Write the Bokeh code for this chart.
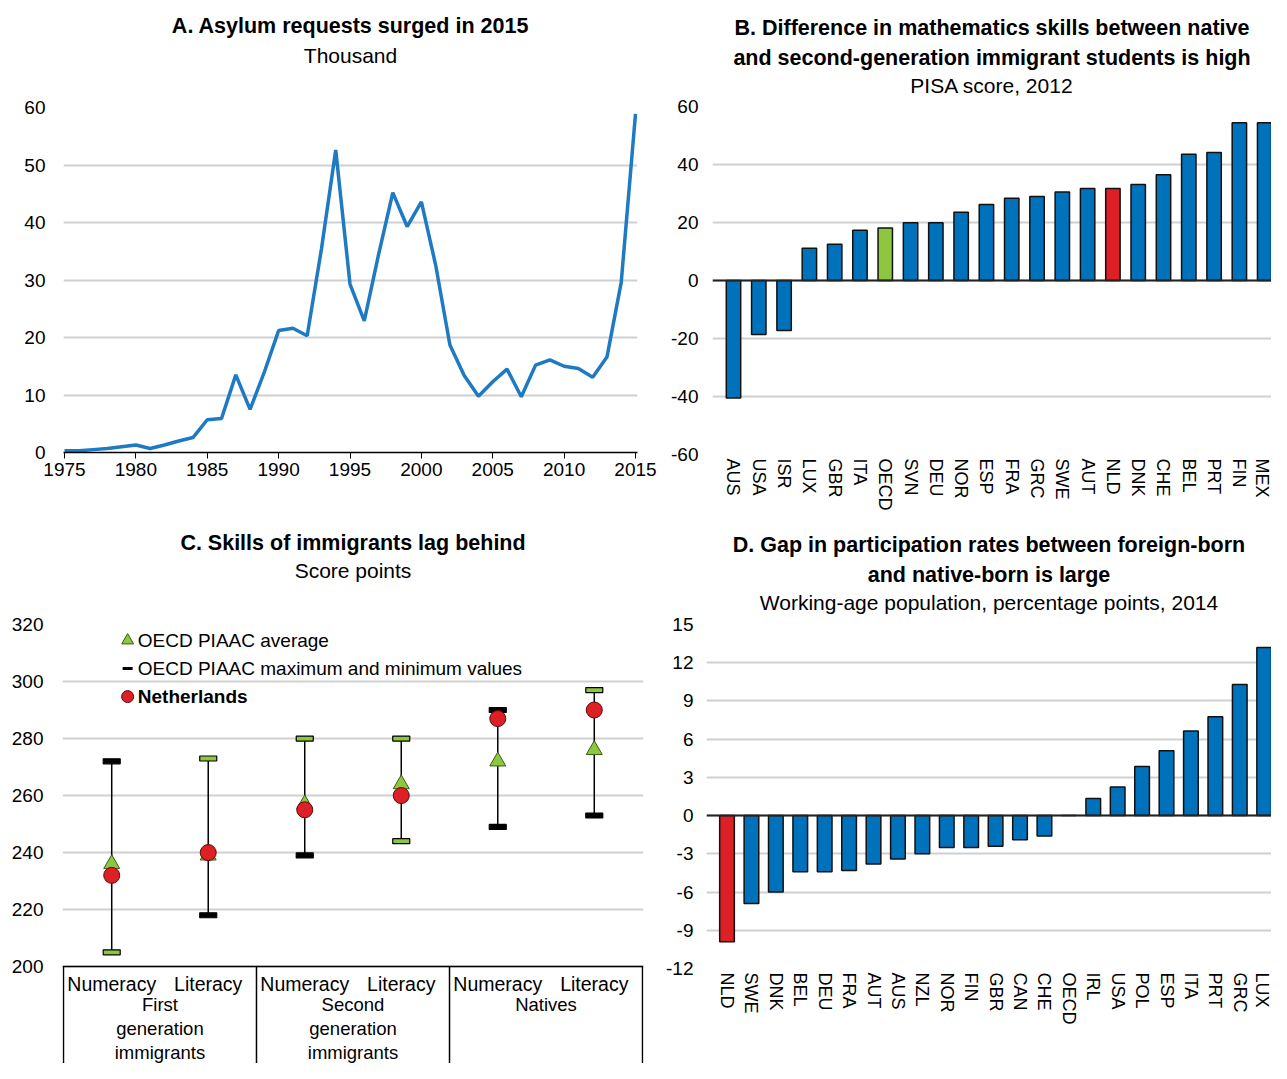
from bokeh.plotting import figure
from bokeh.models import Range1d, FixedTicker, Title, ColumnDataSource, Span
from bokeh.layouts import row, column
from bokeh.embed import file_html
from bokeh.resources import INLINE
from bokeh.core.properties import value

FONT = "Liberation Sans"
BLUE = "#0072BC"
RED = "#DD1F26"
GREEN = "#8DC63F"
GRID = "#D0D0D0"

# ---------------- data ----------------
# Panel A: asylum requests (thousand)
years = list(range(1975, 2016))
asylum = [0.3, 0.3, 0.5, 0.7, 1.0, 1.3, 0.7, 1.3, 2.0, 2.6,
          5.7, 5.9, 13.5, 7.5, 14.0, 21.2, 21.6, 20.3, 35.4, 52.6,
          29.3, 22.9, 34.4, 45.2, 39.3, 43.6, 32.6, 18.7, 13.4, 9.8,
          12.3, 14.5, 9.7, 15.2, 16.1, 15.0, 14.6, 13.1, 16.6, 29.6, 58.9]

# Panel B: PISA maths gap native vs second generation
b_countries = ["AUS", "USA", "ISR", "LUX", "GBR", "ITA", "OECD", "SVN", "DEU", "NOR", "ESP",
               "FRA", "GRC", "SWE", "AUT", "NLD", "DNK", "CHE", "BEL", "PRT", "FIN", "MEX"]
b_values = [-40.5, -18.6, -17.2, 11.1, 12.5, 17.3, 18.1, 19.9, 19.9, 23.5, 26.2,
            28.4, 29.0, 30.5, 31.7, 31.7, 33.1, 36.5, 43.5, 44.1, 54.4, 54.4]

# Panel C: PIAAC skills
c_skills = ["Numeracy", "Literacy", "Numeracy", "Literacy", "Numeracy", "Literacy"]
c_groups = ["First\ngeneration\nimmigrants", "Second\ngeneration\nimmigrants", "Natives"]
piaac_max = [272, 273, 280, 280, 290, 297]
piaac_min = [205, 218, 239, 244, 249, 253]
piaac_avg = [236, 239, 257, 264, 272, 276]
nld_score = [232, 240, 255, 260, 287, 290]

# Panel D: participation gap
d_countries = ["NLD", "SWE", "DNK", "BEL", "DEU", "FRA", "AUT", "AUS", "NZL", "NOR", "FIN", "GBR",
               "CAN", "CHE", "OECD", "IRL", "USA", "POL", "ESP", "ITA", "PRT", "GRC", "LUX"]
d_values = [-9.9, -6.9, -6.0, -4.4, -4.4, -4.3, -3.8, -3.4, -3.0, -2.5, -2.5, -2.4,
            -1.9, -1.6, 0.0, 1.35, 2.25, 3.85, 5.1, 6.65, 7.75, 10.3, 13.2]

# styles (cap fill colours of the max / min markers)
cap_max_fill = ["black", GREEN, GREEN, GREEN, "black", GREEN]
cap_min_fill = [GREEN, "black", "black", GREEN, "black", "black"]

TICK_PX = "19px"


def base_fig(width, height, xr, yr, mbl, mbr, mbt, mbb):
    p = figure(width=width, height=height, x_range=xr, y_range=yr, title=None,
               output_backend="svg", toolbar_location=None,
               min_border_left=mbl, min_border_right=mbr,
               min_border_top=mbt, min_border_bottom=mbb)
    p.frame_align = False
    p.outline_line_color = None
    p.xgrid.visible = False
    p.ygrid.grid_line_color = GRID
    p.ygrid.grid_line_width = 2
    for ax in p.yaxis:
        ax.axis_line_color = None
        ax.major_tick_line_color = None
        ax.minor_tick_line_color = None
        ax.major_tick_in = 0
        ax.major_tick_out = 0
        ax.minor_tick_out = 0
        ax.major_label_text_font = FONT
        ax.major_label_text_font_size = TICK_PX
        ax.major_label_text_color = "black"
    for ax in p.xaxis:
        ax.major_label_text_font = FONT
        ax.major_label_text_font_size = TICK_PX
        ax.major_label_text_color = "black"
        ax.minor_tick_line_color = None
        ax.minor_tick_out = 0
    return p


def set_yticks(p, ticks):
    p.yaxis.ticker = FixedTicker(ticks=ticks)
    p.yaxis.major_label_overrides = {t: str(t) for t in ticks}


def add_titles(p, lines, spacer):
    # lines listed top to bottom: (text, bold, standoff); spacer: (font px, standoff)
    p.add_layout(Title(text=" ", text_font=FONT, text_font_size=spacer[0],
                       standoff=spacer[1]), "above")
    for text, bold, so in reversed(lines):
        p.add_layout(Title(text=text, align="center", text_font=FONT,
                           text_font_size="21.5px" if bold else "21px",
                           text_font_style="bold" if bold else "normal",
                           text_color="black", standoff=so), "above")


# ---------------- Panel A ----------------
pa = base_fig(658, 520, Range1d(1974.93, 2015.14), Range1d(0, 60), 63, 21, 107, 68)
set_yticks(pa, [0, 10, 20, 30, 40, 50, 60])
pa.yaxis.major_label_standoff = 18
pa.xaxis.ticker = FixedTicker(ticks=list(range(1975, 2016, 5)))
pa.xaxis.axis_line_color = "black"
pa.xaxis.axis_line_width = 1.5
pa.xaxis.major_tick_line_color = "black"
pa.xaxis.major_tick_in = 0
pa.xaxis.major_tick_out = 6
pa.xaxis.major_label_standoff = 4
pa.line(years, asylum, line_color="#1E7AC2", line_width=3.5)
add_titles(pa, [("A. Asylum requests surged in 2015", True, 6), ("Thousand", False, 2)],
           ("10px", 27))

# ---------------- Panel B ----------------
b_idx = list(range(len(b_countries)))
b_colors = [RED if c == "NLD" else GREEN if c == "OECD" else BLUE for c in b_countries]
pb = base_fig(613, 520, Range1d(-0.83, 21.27), Range1d(-60, 60), 54, 0, 106, 66)
set_yticks(pb, [-60, -40, -20, 0, 20, 40, 60])
pb.yaxis.major_label_standoff = 14
pb.xaxis.ticker = FixedTicker(ticks=b_idx)
pb.xaxis.major_label_overrides = {i: c for i, c in enumerate(b_countries)}
pb.xaxis.major_label_orientation = "vertical"
pb.xaxis.axis_line_color = None
pb.xaxis.major_tick_line_color = None
pb.xaxis.major_tick_out = 0
pb.xaxis.major_tick_in = 0
pb.xaxis.major_label_standoff = 4
pb.xaxis.major_label_text_font_size = "18px"
srcb = ColumnDataSource(dict(x=b_idx, top=b_values, color=b_colors))
pb.vbar(x="x", top="top", bottom=0, width=0.57, fill_color="color", line_color="#111111",
        line_width=1.5, source=srcb)
pb.add_layout(Span(location=0, dimension="width", line_color="#222222", line_width=2))
add_titles(pb, [("B. Difference in mathematics skills between native", True, 6.4),
                ("and second-generation immigrant students is high", True, 2.2),
                ("PISA score, 2012", False, 1)], ("2px", 5))

# ---------------- Panel C ----------------
c_idx = list(range(len(c_skills)))
pc = base_fig(658, 543, Range1d(-0.51, 5.51), Range1d(166.0, 320), 62, 15, 104, 0)
set_yticks(pc, [200, 220, 240, 260, 280, 300, 320])
pc.yaxis.major_label_standoff = 19
pc.xaxis.visible = False
# table box below the axis
pc.segment(x0=[-0.51], y0=[200], x1=[5.51], y1=[200], line_color="black", line_width=1.5)
pc.segment(x0=[-0.5, 1.5, 3.5, 5.5], y0=[200] * 4, x1=[-0.5, 1.5, 3.5, 5.5], y1=[150] * 4,
           line_color="black", line_width=1.5)
pc.text(x=c_idx, y=[194.0] * 6, text=c_skills, text_align="center", text_baseline="middle",
        text_font=value(FONT), text_font_size="19.5px", text_color="black")
pc.text(x=[0.5, 2.5, 4.5], y=[190.35] * 3, text=c_groups, text_align="center", text_baseline="top",
        text_font=value(FONT), text_font_size="18.5px", text_color="black", text_line_height=1.135)
# whiskers
pc.segment(x0=c_idx, y0=piaac_min, x1=c_idx, y1=piaac_max, line_color="black", line_width=1.5)
pc.rect(x=c_idx, y=piaac_max, width=17, height=5, width_units="screen", height_units="screen",
        fill_color=cap_max_fill, line_color="black", line_width=1.2)
pc.rect(x=c_idx, y=piaac_min, width=17, height=5, width_units="screen", height_units="screen",
        fill_color=cap_min_fill, line_color="black", line_width=1.2)
pc.scatter(x=c_idx, y=piaac_avg, marker="triangle", size=16, fill_color=GREEN, line_color="#3c5a14",
           line_width=1)
pc.scatter(x=c_idx, y=nld_score, marker="circle", size=16, fill_color=RED, line_color="#5a0a0a",
           line_width=1)
# legend
pc.scatter(x=[0.165], y=[314.4], marker="triangle", size=12, fill_color=GREEN, line_color="#3c5a14")
pc.scatter(x=[0.165], y=[304.6], marker="dash", size=10, line_color="black", line_width=3)
pc.scatter(x=[0.165], y=[294.7], marker="circle", size=12, fill_color=RED, line_color="#5a0a0a")
pc.text(x=[0.27, 0.27], y=[314.4, 304.6], text=["OECD PIAAC average", "OECD PIAAC maximum and minimum values"],
        text_baseline="middle", text_font=value(FONT), text_font_size="19px", text_color="black")
pc.text(x=[0.27], y=[294.7], text=["Netherlands"], text_baseline="middle", text_font=value(FONT),
        text_font_size="19px", text_font_style="bold", text_color="black")
add_titles(pc, [("C. Skills of immigrants lag behind", True, 2), ("Score points", False, 2)],
           ("10px", 29))

# ---------------- Panel D ----------------
d_idx = list(range(len(d_countries)))
d_colors = [RED if c == "NLD" else BLUE for c in d_countries]
pd_ = base_fig(613, 543, Range1d(-0.84, 22.3), Range1d(-12, 15), 48, 0, 104, 95)
set_yticks(pd_, [-12, -9, -6, -3, 0, 3, 6, 9, 12, 15])
pd_.yaxis.major_label_standoff = 13
pd_.xaxis.ticker = FixedTicker(ticks=d_idx)
pd_.xaxis.major_label_overrides = {i: c for i, c in enumerate(d_countries)}
pd_.xaxis.major_label_orientation = "vertical"
pd_.xaxis.axis_line_color = None
pd_.xaxis.major_tick_line_color = None
pd_.xaxis.major_tick_out = 0
pd_.xaxis.major_tick_in = 0
pd_.xaxis.major_label_standoff = 4
pd_.xaxis.major_label_text_font_size = "18px"
srcd = ColumnDataSource(dict(x=d_idx, top=d_values, color=d_colors))
pd_.vbar(x="x", top="top", bottom=0, width=0.6, fill_color="color", line_color="#111111",
         line_width=1.5, source=srcd)
pd_.add_layout(Span(location=0, dimension="width", line_color="#222222", line_width=2))
add_titles(pd_, [("D. Gap in participation rates between foreign-born", True, 7.4),
                 ("and native-born is large", True, 2.2),
                 ("Working-age population, percentage points, 2014", False, 0)], ("2px", 6.4))

layout = column(row(pa, pb, spacing=0), row(pc, pd_, spacing=0), spacing=0)
open("out.html", "w").write(file_html(layout, INLINE))
